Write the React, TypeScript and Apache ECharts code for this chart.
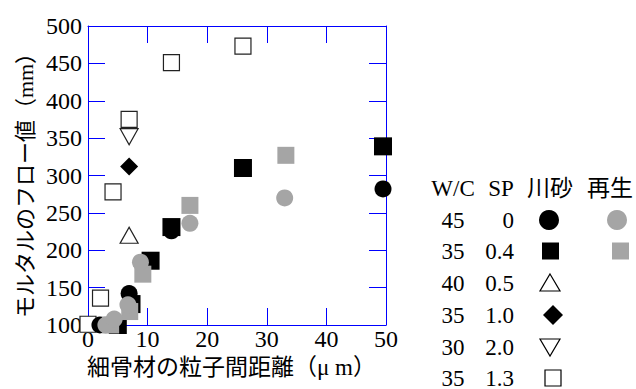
import React, { useEffect, useRef } from "react";
import * as echarts from "echarts";

// Tick labels
const xTicks = [0, 10, 20, 30, 40, 50];
const yTicks = [100, 150, 200, 250, 300, 350, 400, 450, 500];

// Series values [interparticle distance (µm), flow (mm)]
const riverSand45_0: number[][] = [[2, 100], [4.6, 103], [6.9, 142], [14, 226], [49.5, 282]];
const riverSand35_04: number[][] = [[5, 100], [7.3, 128], [10.5, 186], [14, 231], [26, 310], [49.5, 339]];
const riverSand40_05: number[][] = [[6.9, 220]];
const riverSand35_10: number[][] = [[6.9, 312]];
const riverSand30_20: number[][] = [[6.9, 352]];
const riverSand35_13: number[][] = [[0, 101], [2.1, 136], [4.2, 278], [6.9, 375], [14, 451], [26, 473]];
const recycled45_0: number[][] = [[3, 100], [4.4, 108], [6.7, 127], [8.8, 184], [17.1, 236], [33, 270]];
const recycled35_04: number[][] = [[3.8, 100], [7, 118], [9.2, 168], [17.1, 260], [33.2, 327]];

// Legend table
const legendHeader = ["W/C", "SP", "川砂", "再生"];
const legendWC = ["45", "35", "40", "35", "30", "35"];
const legendSP = ["0", "0.4", "0.5", "1.0", "2.0", "1.3"];

const xTitle = "細骨材の粒子間距離（μ m）";
const yTitle = "モルタルのフロー値（mm）";

const SERIF = "Liberation Serif, Times New Roman, Noto Sans CJK JP, serif";
const CJK = "Liberation Serif, Noto Sans CJK JP, serif";
const GRAY = "#a5a5a5";
const BLUE = "#0000ff";

export default function App() {
  const ref = useRef<HTMLDivElement>(null);
  useEffect(() => {
    if (!ref.current) return;
    const chart = echarts.init(ref.current, null, { renderer: "svg" });

    const rowY = [220, 251, 283, 315, 347, 378];
    const graphics: any[] = [];
    const hdrX = [453, 501, 550, 610];
    legendHeader.forEach((t, i) => {
      graphics.push({
        type: "text",
        x: hdrX[i],
        y: 188,
        style: { text: t, fontSize: 23, fontFamily: i < 2 ? SERIF : CJK, fill: "#000", align: "center", verticalAlign: "middle" },
      });
    });
    legendWC.forEach((t, i) => {
      graphics.push({
        type: "text",
        x: 453,
        y: rowY[i],
        style: { text: t, fontSize: 23, fontFamily: SERIF, fill: "#000", align: "center", verticalAlign: "middle" },
      });
    });
    legendSP.forEach((t, i) => {
      graphics.push({
        type: "text",
        x: 514,
        y: rowY[i],
        style: { text: t, fontSize: 23, fontFamily: SERIF, fill: "#000", align: "right", verticalAlign: "middle" },
      });
    });
    const mx = 550;
    graphics.push({ type: "circle", shape: { cx: mx - 1, cy: rowY[0], r: 10 }, style: { fill: "#000" } });
    graphics.push({ type: "circle", shape: { cx: 617, cy: rowY[0], r: 10 }, style: { fill: GRAY } });
    graphics.push({ type: "rect", shape: { x: mx - 8, y: rowY[1] - 8.5, width: 17, height: 17 }, style: { fill: "#000" } });
    graphics.push({ type: "rect", shape: { x: 612, y: rowY[1] - 8.5, width: 17, height: 17 }, style: { fill: GRAY } });
    graphics.push({
      type: "polygon",
      shape: { points: [[mx, rowY[2] - 9], [mx + 10, rowY[2] + 8], [mx - 10, rowY[2] + 8]] },
      style: { fill: "#fff", stroke: "#000", lineWidth: 1.2 },
    });
    graphics.push({
      type: "polygon",
      shape: { points: [[mx + 3, rowY[3] - 10], [mx + 13, rowY[3]], [mx + 3, rowY[3] + 10], [mx - 7, rowY[3]]] },
      style: { fill: "#000" },
    });
    graphics.push({
      type: "polygon",
      shape: { points: [[mx - 10, rowY[4] - 8], [mx + 10, rowY[4] - 8], [mx, rowY[4] + 9]] },
      style: { fill: "#fff", stroke: "#000", lineWidth: 1.2 },
    });
    graphics.push({
      type: "rect",
      shape: { x: mx - 5, y: rowY[5] - 8, width: 16, height: 16 },
      style: { fill: "#fff", stroke: "#000", lineWidth: 1.2 },
    });
    graphics.push({
      type: "text",
      x: 87,
      y: 367,
      style: { text: xTitle, fontSize: 23, fontFamily: CJK, fill: "#000", align: "left", verticalAlign: "middle" },
    });
    graphics.push({
      type: "text",
      x: 25,
      y: 180,
      rotation: Math.PI / 2,
      style: { text: yTitle, fontSize: 22, fontFamily: CJK, fill: "#000", align: "center", verticalAlign: "middle" },
    });

    const openStyle = { color: "#fff", borderColor: "#222", borderWidth: 1.2, opacity: 1 };
    const base = { type: "scatter", clip: false, xAxisIndex: 0, yAxisIndex: 0 };

    chart.setOption({
      animation: false,
      backgroundColor: "#fff",
      grid: { left: 88, top: 26, right: 250, bottom: 64, containLabel: false },
      xAxis: [
        {
          type: "value",
          min: xTicks[0],
          max: xTicks[xTicks.length - 1],
          interval: xTicks[1] - xTicks[0],
          position: "bottom",
          axisLine: { show: true, lineStyle: { color: BLUE, width: 1 } },
          axisTick: { show: true, inside: true, length: 17, lineStyle: { color: BLUE } },
          axisLabel: { color: "#000", fontFamily: SERIF, fontSize: 24, margin: 2 },
          splitLine: { show: false },
        },
        {
          type: "value",
          min: xTicks[0],
          max: xTicks[xTicks.length - 1],
          interval: xTicks[1] - xTicks[0],
          position: "top",
          axisLine: { show: true, onZero: false, lineStyle: { color: BLUE, width: 1 } },
          axisTick: { show: true, inside: true, length: 17, lineStyle: { color: BLUE } },
          axisLabel: { show: false },
          splitLine: { show: false },
        },
      ],
      yAxis: [
        {
          type: "value",
          min: yTicks[0],
          max: yTicks[yTicks.length - 1],
          interval: yTicks[1] - yTicks[0],
          position: "left",
          axisLine: { show: true, lineStyle: { color: BLUE, width: 1 } },
          axisTick: { show: true, inside: true, length: 17, lineStyle: { color: BLUE } },
          axisLabel: { color: "#000", fontFamily: SERIF, fontSize: 24, margin: 6 },
          splitLine: { show: false },
        },
        {
          type: "value",
          min: yTicks[0],
          max: yTicks[yTicks.length - 1],
          interval: yTicks[1] - yTicks[0],
          position: "right",
          axisLine: { show: true, onZero: false, lineStyle: { color: BLUE, width: 1 } },
          axisTick: { show: true, inside: true, length: 17, lineStyle: { color: BLUE } },
          axisLabel: { show: false },
          splitLine: { show: false },
        },
      ],
      series: [
        { ...base, name: "35 1.3 川砂", data: riverSand35_13, symbol: "rect", symbolSize: 16, itemStyle: openStyle },
        { ...base, name: "40 0.5 川砂", data: riverSand40_05, symbol: "triangle", symbolSize: [18, 16], itemStyle: openStyle },
        { ...base, name: "35 1.0 川砂", data: riverSand35_10, symbol: "diamond", symbolSize: 18, itemStyle: { color: "#000", opacity: 1 } },
        {
          ...base,
          name: "30 2.0 川砂",
          data: riverSand30_20,
          symbol: "triangle",
          symbolRotate: 180,
          symbolSize: [18, 16],
          itemStyle: openStyle,
        },
        { ...base, name: "35 0.4 川砂", data: riverSand35_04, symbol: "rect", symbolSize: 18, itemStyle: { color: "#000", opacity: 1 } },
        { ...base, name: "45 0 川砂", data: riverSand45_0, symbol: "circle", symbolSize: 17, itemStyle: { color: "#000", opacity: 1 } },
        { ...base, name: "35 0.4 再生", data: recycled35_04, symbol: "rect", symbolSize: 17, itemStyle: { color: GRAY, opacity: 1 } },
        { ...base, name: "45 0 再生", data: recycled45_0, symbol: "circle", symbolSize: 17, itemStyle: { color: GRAY, opacity: 1 } },
      ],
      graphic: graphics,
    });
    return () => chart.dispose();
  }, []);
  return <div ref={ref} style={{ position: "fixed", left: 0, top: 0, width: 636, height: 389 }} />;
}
